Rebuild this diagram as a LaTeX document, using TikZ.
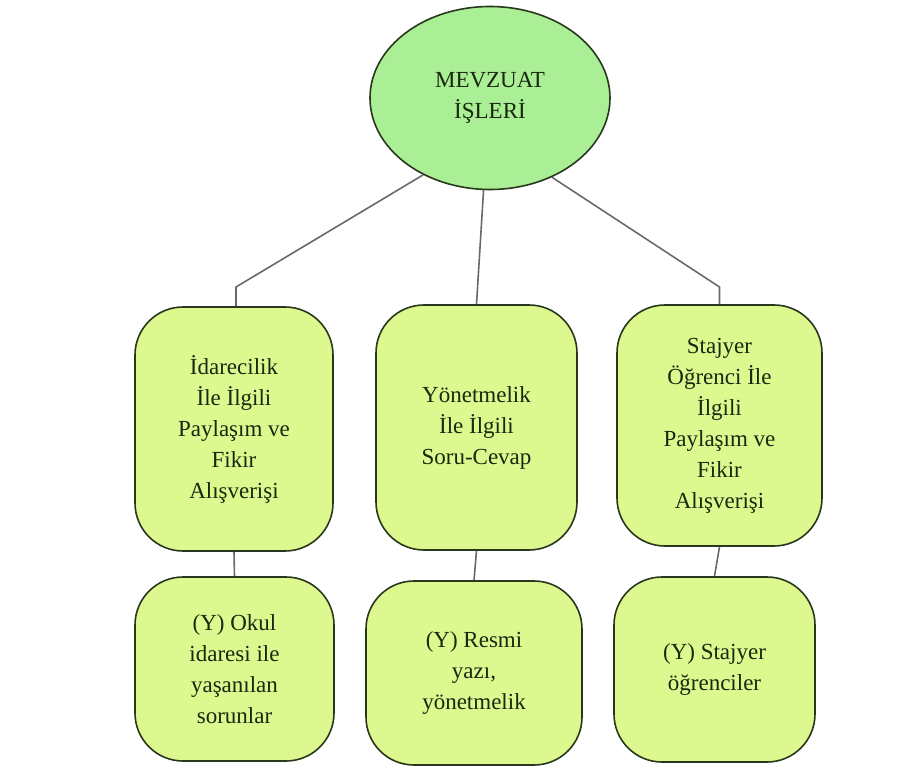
\documentclass[tikz,border=0pt]{standalone}
\usepackage{fontspec}
\setmainfont{Liberation Serif}
\usetikzlibrary{shapes.geometric}
\definecolor{mevzuat}{RGB}{170, 238, 150}
\definecolor{kutu}{RGB}{221, 248, 142}
\definecolor{kenar}{RGB}{40, 56, 28}
\definecolor{cizgi}{RGB}{105, 105, 105}
\definecolor{yazi}{RGB}{25, 40, 15}

\begin{document}
\begin{tikzpicture}[x=1pt, y=-1pt,
	font=\fontsize{23}{31}\selectfont, % tamanho do texto
	% elipse do topo
	anadugum/.style={ellipse, draw=kenar, line width=1.6pt, fill=mevzuat,
		minimum width=240pt, minimum height=183pt, inner sep=0pt,
		align=center, text=yazi},
	% caixas arredondadas
	kutudugum/.style={draw=kenar, line width=1.6pt, fill=kutu,
		rounded corners=48pt, inner sep=0pt, align=center, text=yazi},
	bag/.style={draw=cizgi, line width=1.6pt}]
\useasboundingbox (0,0) rectangle (913,767);

\node[anadugum] (mev) at (490,98) {MEVZUAT\\İŞLERİ};

%% primeira linha
\node[kutudugum, minimum width=198pt, minimum height=244pt] (ida) at (234,429)
	{İdarecilik\\İle İlgili\\Paylaşım ve\\Fikir\\Alışverişi};
\node[kutudugum, minimum width=201pt, minimum height=245pt] (yon) at (476.5,427.5)
	{Yönetmelik\\İle İlgili\\Soru-Cevap};
\node[kutudugum, minimum width=205pt, minimum height=241pt] (sta) at (719.5,425.5)
	{Stajyer\\Öğrenci İle\\İlgili\\Paylaşım ve\\Fikir\\Alışverişi};

%% segunda linha
\node[kutudugum, minimum width=199pt, minimum height=184pt] (oku) at (234.5,669)
	{(Y) Okul\\idaresi ile\\yaşanılan\\sorunlar};
\node[kutudugum, minimum width=216pt, minimum height=184pt] (res) at (474,673)
	{(Y) Resmi\\yazı,\\yönetmelik};
\node[kutudugum, minimum width=201pt, minimum height=185pt] (ogr) at (714.5,669.5)
	{(Y) Stajyer\\öğrenciler};

%% ligacoes
\coordinate (kirsol) at (236,287);
\coordinate (kirsag) at (719.5,287);
\draw[bag] (mev.-131) -- (kirsol) -- (ida.north -| kirsol);
\draw[bag] (mev.-94) -- (yon.north);
\draw[bag] (mev.-52) -- (kirsag) -- (sta.north);
\draw[bag] (ida.south) -- (oku.north);
\draw[bag] (yon.south) -- (res.north);
\draw[bag] (sta.south) -- (ogr.north);
\end{tikzpicture}
\end{document}
